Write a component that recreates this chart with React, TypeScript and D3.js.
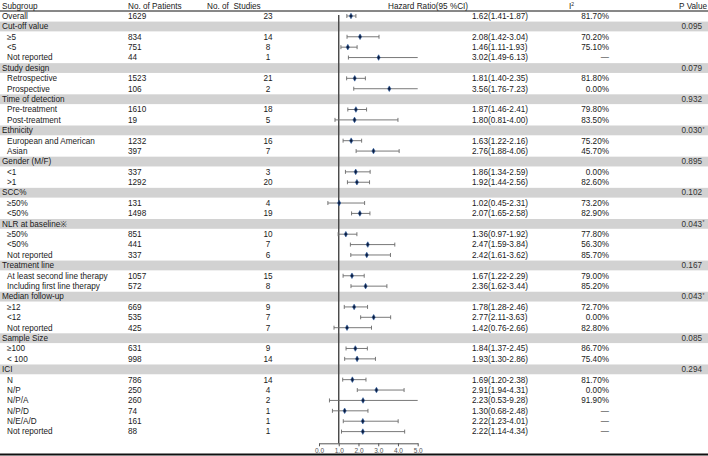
import React, { useEffect, useRef } from "react";
import * as d3 from "d3";

// subgroup rows, group headers have no patients
const rowLabels = [
  "Overall",
  "Cut-off value", "≥5", "<5", "Not reported",
  "Study design", "Retrospective", "Prospective",
  "Time of detection", "Pre-treatment", "Post-treatment",
  "Ethnicity", "European and American", "Asian",
  "Gender (M/F)", "<1", ">1",
  "SCC%", "≥50%", "<50%",
  "NLR at baseline※", "≥50%", "<50%", "Not reported",
  "Treatment line", "At least second line therapy", "Including first line therapy",
  "Median follow-up", "≥12", "<12", "Not reported",
  "Sample Size", "≥100", "< 100",
  "ICI", "N", "N/P", "N/P/A", "N/P/D", "N/E/A/D", "Not reported",
];
const patients = [
  1629,
  null, 834, 751, 44,
  null, 1523, 106,
  null, 1610, 19,
  null, 1232, 397,
  null, 337, 1292,
  null, 131, 1498,
  null, 851, 441, 337,
  null, 1057, 572,
  null, 669, 535, 425,
  null, 631, 998,
  null, 786, 250, 260, 74, 161, 88,
];
const studies = [
  23,
  null, 14, 8, 1,
  null, 21, 2,
  null, 18, 5,
  null, 16, 7,
  null, 3, 20,
  null, 4, 19,
  null, 10, 7, 6,
  null, 15, 8,
  null, 9, 7, 7,
  null, 9, 14,
  null, 14, 4, 2, 1, 1, 1,
];
const hr = [
  1.62,
  null, 2.08, 1.46, 3.02,
  null, 1.81, 3.56,
  null, 1.87, 1.80,
  null, 1.63, 2.76,
  null, 1.86, 1.92,
  null, 1.02, 2.07,
  null, 1.36, 2.47, 2.42,
  null, 1.67, 2.36,
  null, 1.78, 2.77, 1.42,
  null, 1.84, 1.93,
  null, 1.69, 2.91, 2.23, 1.30, 2.22, 2.22,
];
const ciLow = [
  1.41,
  null, 1.42, 1.11, 1.49,
  null, 1.40, 1.76,
  null, 1.46, 0.81,
  null, 1.22, 1.88,
  null, 1.34, 1.44,
  null, 0.45, 1.65,
  null, 0.97, 1.59, 1.61,
  null, 1.22, 1.62,
  null, 1.28, 2.11, 0.76,
  null, 1.37, 1.30,
  null, 1.20, 1.94, 0.53, 0.68, 1.23, 1.14,
];
const ciHigh = [
  1.87,
  null, 3.04, 1.93, 6.13,
  null, 2.35, 7.23,
  null, 2.41, 4.00,
  null, 2.16, 4.06,
  null, 2.59, 2.56,
  null, 2.31, 2.58,
  null, 1.92, 3.84, 3.62,
  null, 2.29, 3.44,
  null, 2.46, 3.63, 2.66,
  null, 2.45, 2.86,
  null, 2.38, 4.31, 9.28, 2.48, 4.01, 4.34,
];
const i2 = [
  "81.70%",
  "", "70.20%", "75.10%", "—",
  "", "81.80%", "0.00%",
  "", "79.80%", "83.50%",
  "", "75.20%", "45.70%",
  "", "0.00%", "82.60%",
  "", "73.20%", "82.90%",
  "", "77.80%", "56.30%", "85.70%",
  "", "79.00%", "85.20%",
  "", "72.70%", "0.00%", "82.80%",
  "", "86.70%", "75.40%",
  "", "81.70%", "0.00%", "91.90%", "—", "—", "—",
];
const pValues = [
  "",
  "0.095", "", "", "",
  "0.079", "", "",
  "0.932", "", "",
  "0.030*", "", "",
  "0.895", "", "",
  "0.102", "", "",
  "0.043*", "", "", "",
  "0.167", "", "",
  "0.043*", "", "", "",
  "0.085", "", "",
  "0.294", "", "", "", "", "", "",
];
const axisTicks = [0, 1, 2, 3, 4, 5];

const W = 708;
const H = 456;
const FONT = "'Liberation Sans', Arial, sans-serif";

function ForestAxis({ scale, y }) {
  const ref = useRef(null);
  useEffect(() => {
    const g = d3.select(ref.current);
    g.selectAll("*").remove();
    g.call(
      d3.axisBottom(scale)
        .tickValues(axisTicks)
        .tickFormat(d3.format(".1f"))
        .tickSizeInner(3)
        .tickSizeOuter(0)
        .tickPadding(2)
    );
    g.select(".domain").attr("stroke", "#555");
    g.selectAll(".tick line").attr("stroke", "#555");
    g.selectAll(".tick text")
      .attr("fill", "#555")
      .attr("font-size", 6.5)
      .attr("font-family", FONT);
  }, [scale]);
  return <g ref={ref} transform={"translate(0," + y + ")"} />;
}

export default function App() {
  const yBand = d3.scaleBand()
    .domain(rowLabels.map((_, i) => String(i)))
    .range([10.8, 436.8])
    .padding(0);
  const bw = yBand.bandwidth();
  const yc = (i) => yBand(String(i)) + bw / 2;

  const x = d3.scaleLinear().domain([0, 5]).range([319, 417.7]);
  const marker = d3.symbol().type(d3.symbolDiamond).size(9)();

  const textProps = { fontSize: 8.2, fill: "#1a1a1a", dy: "0.35em" };

  return (
    <svg width={W} height={H} style={{ position: "absolute", left: 0, top: 0 }}
      fontFamily={FONT}>
      <rect x={0} y={0} width={W} height={H} fill="white" />

      {/* grey bands behind group rows */}
      {rowLabels.map((lab, i) => patients[i] == null ? (
        <rect key={"b" + i} x={0} y={yBand(String(i)) + 0.4} width={W} height={bw - 0.6}
          fill="#d2d2d2" />
      ) : null)}

      {/* header */}
      <g fontSize={8.2} fill="#1a1a1a">
        <text x={2} y={8.5}>Subgroup</text>
        <text x={128} y={8.5}>No. of Patients</text>
        <text x={207} y={8.5} style={{ whiteSpace: "pre" }}>No. of  Studies</text>
        <text x={388} y={8.5}>Hazard Ratio(95 %CI)</text>
        <text x={569} y={8.5}>I<tspan fontSize={5} dy={-3}>2</tspan></text>
        <text x={707} y={8.5} textAnchor="end">P Value</text>
      </g>
      <line x1={0} x2={W} y1={11} y2={11} stroke="#111" strokeWidth={1} />

      {/* table text */}
      {rowLabels.map((lab, i) => {
        const isGroup = patients[i] == null;
        const isOverall = i === 0;
        const y = yc(i);
        return (
          <g key={"t" + i}>
            <text x={isGroup || isOverall ? 2 : 7} y={y} {...textProps}>{lab}</text>
            {!isGroup && <text x={128} y={y} {...textProps}>{patients[i]}</text>}
            {!isGroup && <text x={268} y={y} textAnchor="middle" {...textProps}>{studies[i]}</text>}
            {!isGroup && (
              <text x={472} y={y} {...textProps}>
                {hr[i].toFixed(2) + "(" + ciLow[i].toFixed(2) + "-" + ciHigh[i].toFixed(2) + ")"}
              </text>
            )}
            {!isGroup && (
              <text x={609} y={y} textAnchor="end" {...textProps}>{i2[i]}</text>
            )}
            {isGroup && (
              <g>
                <text x={702} y={y} textAnchor="end" {...textProps} fill="#333">
                  {pValues[i].replace("*", "")}
                </text>
                {pValues[i].includes("*") && (
                  <text x={702.5} y={y - 1.5} fontSize={5} fill="#333" dy="0.35em">*</text>
                )}
              </g>
            )}
          </g>
        );
      })}

      {/* reference line at HR = 1 */}
      <line x1={x(1)} x2={x(1)} y1={15} y2={443.3} stroke="#444" strokeWidth={1.4} />

      {/* confidence intervals and point estimates */}
      {rowLabels.map((lab, i) => {
        if (patients[i] == null) return null;
        const y = yc(i);
        const lo = Math.max(ciLow[i], 0);
        const hi = Math.min(ciHigh[i], 5);
        return (
          <g key={"ci" + i} stroke="#6a6a6a" strokeWidth={0.9}>
            <line x1={x(lo)} x2={x(hi)} y1={y} y2={y} />
            {ciLow[i] >= 0 && <line x1={x(lo)} x2={x(lo)} y1={y - 2} y2={y + 2} />}
            {ciHigh[i] <= 5 && <line x1={x(hi)} x2={x(hi)} y1={y - 2} y2={y + 2} />}
            <path d={marker} transform={"translate(" + x(hr[i]) + "," + y + ")"}
              fill="#0d1c3d" stroke="#2a5aa0" strokeWidth={0.6} />
          </g>
        );
      })}

      <ForestAxis scale={x} y={443.3} />

      <line x1={0} x2={W} y1={454.5} y2={454.5} stroke="#111" strokeWidth={2} />
    </svg>
  );
}
